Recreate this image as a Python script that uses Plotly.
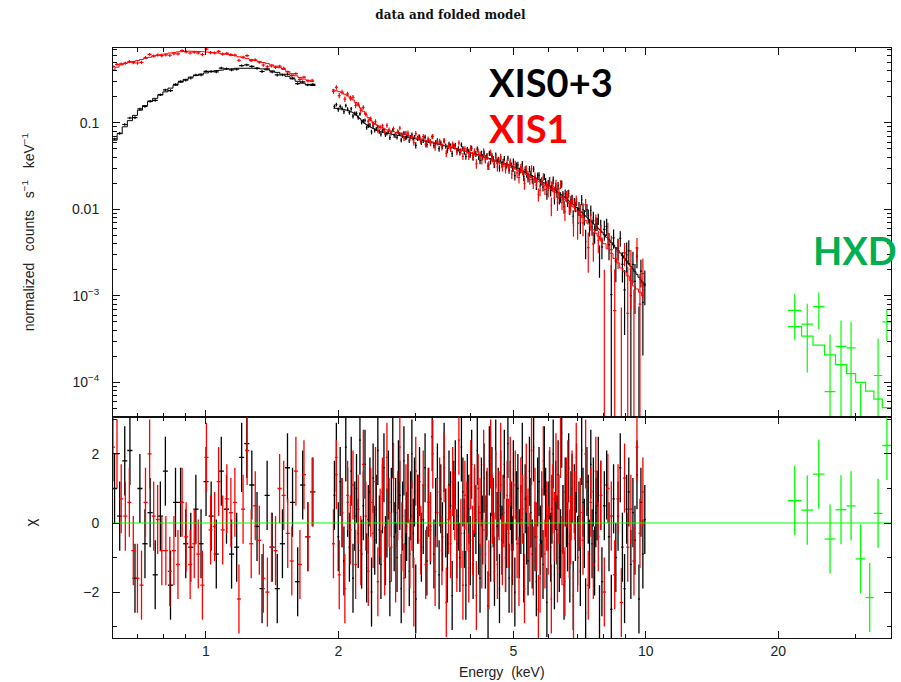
import numpy as np
import plotly.graph_objects as go
from plotly.subplots import make_subplots

# ---------------- data ----------------
# XIS0+3 (black), low-energy segment
XIS03_LO_E = [0.620, 0.637, 0.654, 0.672, 0.690, 0.708, 0.727, 0.747, 0.767, 0.788,
              0.809, 0.831, 0.853, 0.876, 0.900, 0.924, 0.949, 0.975, 1.001, 1.028,
              1.056, 1.084, 1.114, 1.144, 1.175, 1.206, 1.239, 1.272, 1.307, 1.342,
              1.378, 1.415, 1.453, 1.493, 1.533, 1.574, 1.617, 1.660, 1.705, 1.751]
XIS03_LO_MODEL = [0.063, 0.075, 0.090, 0.106, 0.122, 0.140, 0.158, 0.176, 0.192, 0.210,
                  0.228, 0.252, 0.272, 0.295, 0.318, 0.338, 0.352, 0.366, 0.378, 0.390,
                  0.400, 0.408, 0.416, 0.422, 0.427, 0.430, 0.432, 0.432, 0.428, 0.420,
                  0.410, 0.398, 0.383, 0.365, 0.345, 0.322, 0.302, 0.287, 0.278, 0.270]
XIS03_LO_CHI = [1.0, 0.2, 1.8, 2.1, -1.6, 1.0, -0.6, 0.3, -1.5, 0.2,
                1.5, -1.8, 0.6, 0.6, -0.6, -0.7, 0.4, -0.6, 1.2, 0.2,
                -0.9, 1.5, 0.4, -0.9, -0.7, 1.9, 2.3, 1.1, -0.1, -1.9,
                0.8, -0.7, -1.9, -0.6, 1.6, 0.6, -1.7, 1.1, -0.4, 0.9]

# XIS0+3 (black), high-energy segment
XIS03_HI_E = [1.96, 1.98, 2.00, 2.02, 2.04, 2.06, 2.08, 2.10, 2.12, 2.14,
              2.16, 2.18, 2.20, 2.22, 2.24, 2.26, 2.28, 2.30, 2.32, 2.34,
              2.36, 2.38, 2.40, 2.42, 2.44, 2.46, 2.48, 2.50, 2.52, 2.54,
              2.56, 2.58, 2.60, 2.62, 2.64, 2.66, 2.68, 2.70, 2.72, 2.74,
              2.76, 2.78, 2.80, 2.82, 2.84, 2.86, 2.88, 2.90, 2.92, 2.94,
              2.96, 2.98, 3.00, 3.03, 3.06, 3.09, 3.12, 3.15, 3.18, 3.21,
              3.24, 3.27, 3.30, 3.33, 3.36, 3.39, 3.42, 3.45, 3.48, 3.51,
              3.54, 3.57, 3.60, 3.63, 3.66, 3.69, 3.72, 3.75, 3.78, 3.81,
              3.84, 3.87, 3.90, 3.93, 3.96, 3.99, 4.02, 4.05, 4.08, 4.11,
              4.14, 4.17, 4.20, 4.23, 4.26, 4.29, 4.32, 4.35, 4.38, 4.41,
              4.44, 4.47, 4.50, 4.53, 4.56, 4.59, 4.62, 4.65, 4.68, 4.71,
              4.74, 4.77, 4.80, 4.83, 4.86, 4.89, 4.92, 4.95, 4.98, 5.00,
              5.04, 5.08, 5.12, 5.16, 5.20, 5.24, 5.28, 5.32, 5.36, 5.40,
              5.44, 5.48, 5.52, 5.56, 5.60, 5.64, 5.68, 5.72, 5.76, 5.80,
              5.84, 5.88, 5.92, 5.96, 6.00, 6.04, 6.08, 6.12, 6.16, 6.20,
              6.24, 6.28, 6.32, 6.36, 6.40, 6.44, 6.48, 6.52, 6.56, 6.60,
              6.64, 6.68, 6.72, 6.76, 6.80, 6.84, 6.88, 6.92, 6.96, 7.00,
              7.05, 7.10, 7.15, 7.20, 7.25, 7.30, 7.35, 7.40, 7.45, 7.50,
              7.55, 7.60, 7.65, 7.70, 7.75, 7.80, 7.85, 7.90, 7.95, 8.05,
              8.15, 8.25, 8.35, 8.45, 8.55, 8.65, 8.75, 8.85, 8.95, 9.05,
              9.15, 9.25, 9.35, 9.45, 9.55, 9.65, 9.75, 9.85, 9.95]
XIS03_HI_MODEL = [0.148, 0.147, 0.146, 0.145, 0.144, 0.143, 0.141, 0.139, 0.137, 0.134,
                  0.131, 0.127, 0.122, 0.117, 0.112, 0.107, 0.102, 0.098, 0.095, 0.092,
                  0.090, 0.088, 0.086, 0.084, 0.083, 0.081, 0.080, 0.079, 0.078, 0.077,
                  0.076, 0.0755, 0.075, 0.0745, 0.074, 0.0735, 0.073, 0.0725, 0.072, 0.0715,
                  0.071, 0.0705, 0.070, 0.0695, 0.069, 0.0685, 0.068, 0.0675, 0.067, 0.0665,
                  0.066, 0.0655, 0.0650, 0.0643, 0.0636, 0.0629, 0.0622, 0.0615, 0.0608, 0.0602,
                  0.0595, 0.0589, 0.0582, 0.0576, 0.0570, 0.0563, 0.0557, 0.0551, 0.0545, 0.0539,
                  0.0533, 0.0527, 0.0522, 0.0516, 0.0510, 0.0505, 0.0499, 0.0494, 0.0488, 0.0483,
                  0.0478, 0.0472, 0.0467, 0.0462, 0.0457, 0.0452, 0.0447, 0.0442, 0.0437, 0.0433,
                  0.0428, 0.0423, 0.0419, 0.0414, 0.0410, 0.0405, 0.0401, 0.0396, 0.0392, 0.0388,
                  0.0383, 0.0379, 0.0375, 0.0371, 0.0367, 0.0363, 0.0359, 0.0355, 0.0351, 0.0347,
                  0.0343, 0.0340, 0.0336, 0.0332, 0.0329, 0.0325, 0.0321, 0.0318, 0.0315, 0.0313,
                  0.0307, 0.0302, 0.0296, 0.0291, 0.0285, 0.0280, 0.0275, 0.0269, 0.0264, 0.0259,
                  0.0254, 0.0249, 0.0244, 0.0239, 0.0234, 0.0229, 0.0224, 0.0220, 0.0215, 0.0211,
                  0.0206, 0.0202, 0.0198, 0.0193, 0.0189, 0.0185, 0.0181, 0.0177, 0.0173, 0.0169,
                  0.0165, 0.0161, 0.0158, 0.0154, 0.0150, 0.0147, 0.0143, 0.0140, 0.0136, 0.0133,
                  0.0130, 0.0126, 0.0123, 0.0120, 0.0117, 0.0114, 0.0111, 0.0108, 0.0105, 0.0102,
                  0.00987, 0.00955, 0.00924, 0.00894, 0.00865, 0.00837, 0.00810, 0.00784, 0.00759, 0.00734,
                  0.00710, 0.00687, 0.00665, 0.00643, 0.00622, 0.00602, 0.00582, 0.00563, 0.00545, 0.00510,
                  0.00476, 0.00444, 0.00414, 0.00386, 0.00360, 0.00336, 0.00313, 0.00292, 0.00272, 0.00253,
                  0.00236, 0.00219, 0.00204, 0.00190, 0.00177, 0.00164, 0.00152, 0.00141, 0.00131]
XIS03_HI_CHI = [0.8, 1.9, -0.4, 1.2, 0.3, -1.1, 2.2, 0.6, -0.7, 1.5,
                -1.6, 0.2, 1.0, -0.3, 2.4, -0.9, 0.5, 1.7, -1.3, 0.1,
                0.9, -2.0, 1.3, -0.5, 0.4, 2.1, -0.2, -1.2, 0.7, 1.6,
                -0.8, 0.0, 1.1, -1.7, 0.6, 2.3, -0.4, 0.3, -1.0, 1.4,
                0.8, -1.9, 0.2, 1.8, -0.6, -0.1, 1.0, -1.4, 0.5, 2.0,
                -0.3, 0.9, -2.2, 0.4, 1.2, -0.7, 0.1, 1.6, -1.1, 0.6,
                -0.2, 2.5, -0.9, 0.3, 1.3, -1.5, 0.7, -0.4, 1.9, 0.0,
                -1.3, 1.1, 0.5, -2.1, 0.8, 1.4, -0.6, 0.2, -1.0, 2.2,
                0.9, -0.3, -1.8, 1.0, 0.4, -0.8, 1.7, -1.2, 0.6, 0.1,
                2.1, -0.5, -1.6, 0.9, -0.2, 1.3, -0.9, 0.5, -2.4, 1.8,
                -0.7, 1.2, 0.3, -1.4, 2.0, -0.1, 0.6, -1.9, 1.1, -0.5,
                0.4, 1.7, -1.0, -0.3, 2.3, -1.6, 0.8, 0.2, -0.8, 1.4,
                -2.0, 0.5, 1.0, -0.6, 0.1, 1.9, -1.3, 0.7, -0.2, -1.1,
                1.5, 0.3, -0.9, 2.2, -0.4, -1.7, 0.9, 1.2, -0.5, 0.0,
                -1.2, 1.8, 0.6, -2.3, 0.2, 1.1, -0.7, 0.4, 2.0, -1.5,
                0.8, -0.2, 1.4, -1.0, -0.6, 2.6, 0.1, -1.8, 0.9, 0.3,
                -0.4, 1.6, -1.3, 0.5, 1.0, -2.1, 0.7, -0.1, 1.3, -0.8,
                0.2, -1.4, 2.1, 0.6, -0.3, -2.6, 1.2, 0.4, -0.9, 1.7,
                -0.6, 0.9, -1.1, 0.3, 0.5, 1.5, -2.8, 0.8, -1.7, 0.5,
                1.1, -0.4, -2.5, 0.7, -1.0, 0.2, 1.6, -0.7, -1.9, 0.4,
                0.9, -1.2, 0.3, -0.5, 1.4, -2.2, 0.6, -0.9, 0.1]

# XIS1 (red), low-energy segment
XIS1_LO_E = [0.615, 0.628, 0.642, 0.656, 0.670, 0.684, 0.699, 0.714, 0.729, 0.745,
             0.761, 0.777, 0.794, 0.811, 0.828, 0.846, 0.864, 0.883, 0.902, 0.921,
             0.941, 0.961, 0.982, 1.003, 1.025, 1.047, 1.069, 1.092, 1.116, 1.140,
             1.164, 1.189, 1.215, 1.241, 1.268, 1.295, 1.323, 1.351, 1.380, 1.410,
             1.440, 1.471, 1.503, 1.535, 1.568, 1.602, 1.636, 1.671, 1.707, 1.744]
XIS1_LO_MODEL = [0.410, 0.440, 0.468, 0.485, 0.500, 0.512, 0.525, 0.540, 0.556, 0.572,
                 0.590, 0.605, 0.618, 0.630, 0.640, 0.650, 0.660, 0.668, 0.672, 0.674,
                 0.672, 0.668, 0.664, 0.660, 0.654, 0.646, 0.638, 0.628, 0.618, 0.606,
                 0.594, 0.580, 0.566, 0.552, 0.538, 0.525, 0.512, 0.498, 0.484, 0.468,
                 0.452, 0.434, 0.414, 0.392, 0.370, 0.350, 0.334, 0.320, 0.310, 0.300]
XIS1_LO_CHI = [2.2, 2.0, 0.7, 0.2, 0.6, -0.8, -1.6, -1.8, 0.6, 2.0,
               0.2, 0.1, -0.8, -0.8, -1.4, -0.8, -1.2, 0.6, -0.4, -1.2,
               -0.6, -0.9, -1.8, 1.9, -0.2, -0.1, 1.2, -0.2, 0.7, 0.3,
               0.6, -2.2, 0.4, 2.1, -0.6, 0.5, -0.5, -1.6, -2.0, -0.7,
               -0.8, 1.0, 0.8, -0.3, -1.1, 1.5, -1.2, 1.4, -0.4, 0.9]

# XIS1 (red), high-energy segment
XIS1_HI_E = [1.95, 1.98, 2.01, 2.04, 2.07, 2.10, 2.13, 2.16, 2.19, 2.22,
             2.25, 2.28, 2.31, 2.34, 2.37, 2.40, 2.43, 2.46, 2.49, 2.52,
             2.55, 2.58, 2.61, 2.64, 2.67, 2.70, 2.73, 2.76, 2.79, 2.82,
             2.85, 2.88, 2.91, 2.94, 2.97, 3.00, 3.04, 3.08, 3.12, 3.16,
             3.20, 3.24, 3.28, 3.32, 3.36, 3.40, 3.44, 3.48, 3.52, 3.56,
             3.60, 3.64, 3.68, 3.72, 3.76, 3.80, 3.84, 3.88, 3.92, 3.96,
             4.00, 4.04, 4.08, 4.12, 4.16, 4.20, 4.24, 4.28, 4.32, 4.36,
             4.40, 4.44, 4.48, 4.52, 4.56, 4.60, 4.64, 4.68, 4.72, 4.76,
             4.80, 4.84, 4.88, 4.92, 4.96, 5.00, 5.05, 5.10, 5.15, 5.20,
             5.25, 5.30, 5.35, 5.40, 5.45, 5.50, 5.55, 5.60, 5.65, 5.70,
             5.75, 5.80, 5.85, 5.90, 5.95, 6.00, 6.05, 6.10, 6.15, 6.20,
             6.25, 6.30, 6.35, 6.40, 6.45, 6.50, 6.55, 6.60, 6.65, 6.70,
             6.75, 6.80, 6.85, 6.90, 6.95, 7.00, 7.10, 7.20, 7.30, 7.40,
             7.50, 7.60, 7.70, 7.80, 7.90, 8.05, 8.20, 8.35, 8.50, 8.65,
             8.80, 8.95, 9.10, 9.25, 9.40, 9.55, 9.70, 9.85]
XIS1_HI_MODEL = [0.240, 0.235, 0.229, 0.222, 0.214, 0.205, 0.195, 0.184, 0.172, 0.160,
                 0.148, 0.136, 0.125, 0.115, 0.107, 0.100, 0.096, 0.092, 0.089, 0.087,
                 0.085, 0.083, 0.0815, 0.080, 0.079, 0.078, 0.077, 0.076, 0.075, 0.074,
                 0.073, 0.072, 0.0705, 0.069, 0.068, 0.0670, 0.0659, 0.0649, 0.0638, 0.0628,
                 0.0618, 0.0608, 0.0599, 0.0589, 0.0580, 0.0570, 0.0561, 0.0552, 0.0543, 0.0535,
                 0.0526, 0.0518, 0.0509, 0.0501, 0.0493, 0.0485, 0.0478, 0.0470, 0.0462, 0.0455,
                 0.0448, 0.0441, 0.0434, 0.0427, 0.0420, 0.0413, 0.0407, 0.0400, 0.0394, 0.0387,
                 0.0381, 0.0375, 0.0369, 0.0363, 0.0357, 0.0352, 0.0346, 0.0341, 0.0335, 0.0330,
                 0.0325, 0.0319, 0.0314, 0.0309, 0.0304, 0.0299, 0.0292, 0.0285, 0.0279, 0.0272,
                 0.0266, 0.0259, 0.0253, 0.0247, 0.0241, 0.0235, 0.0229, 0.0223, 0.0217, 0.0212,
                 0.0206, 0.0201, 0.0195, 0.0190, 0.0185, 0.0180, 0.0175, 0.0170, 0.0165, 0.0160,
                 0.0155, 0.0151, 0.0146, 0.0142, 0.0137, 0.0133, 0.0129, 0.0125, 0.0121, 0.0117,
                 0.0113, 0.0109, 0.0106, 0.0102, 0.00985, 0.0093, 0.0086, 0.0080, 0.0074, 0.0068,
                 0.0063, 0.0058, 0.0053, 0.0049, 0.0045, 0.0040, 0.0035, 0.0031, 0.0027, 0.0024,
                 0.0021, 0.0019, 0.0017, 0.0015, 0.0013, 0.0012, 0.0011, 0.0010]
XIS1_HI_CHI = [-0.6, 1.4, -1.5, 0.3, -1.9, 0.8, -0.2, 1.1, -1.2, 0.4,
               -0.8, 1.7, 0.2, -1.4, 0.6, -0.3, 1.2, -1.7, 0.0, 0.9,
               -1.1, 1.9, 0.3, -0.7, 1.3, -1.3, 0.5, 2.2, -0.4, -1.6,
               0.7, 1.0, -0.9, 0.2, -2.0, 1.5, 0.4, -0.5, 1.1, -1.2,
               0.6, -0.1, 2.0, -1.4, 0.3, 0.9, -0.8, 1.6, -2.3, 0.1,
               -0.6, 1.2, 0.5, -1.0, 2.4, -0.3, -1.8, 0.8, 0.2, -1.3,
               1.4, -0.5, 0.7, -2.1, 1.0, 0.3, -0.9, 1.7, -0.2, 0.6,
               -1.5, 2.0, 0.4, -0.7, 1.1, -1.2, 0.5, 1.9, -0.8, 0.3,
               -1.0, 0.8, -0.3, 1.5, -1.6, 0.2, 1.1, -0.6, -1.4, 0.9,
               0.4, -1.9, 1.3, 0.0, -0.7, 2.1, -1.1, 0.6, -0.4, -2.5,
               -1.6, 0.5, 1.8, -0.9, 0.2, -0.5, 1.2, -2.2, 0.7, -0.1,
               1.6, -1.3, 0.4, 2.3, -0.8, 0.1, -1.7, 0.9, 1.4, -0.6,
               -0.2, 1.1, -2.4, 0.5, 1.9, -1.0, 0.3, -0.5, 2.0, -1.8,
               0.6, -1.2, 1.5, -0.4, 0.8, -2.0, 1.0, 0.2, -1.5, 0.7,
               -2.3, 1.3, -0.7, 0.4, -1.1, 2.2, -0.3, 0.9]

# fractional 1-sigma errors of the XIS data, by energy band
ERR_BAND_EDGES = [0.0, 1.9, 3.0, 4.0, 5.0, 6.0, 7.0, 8.0, 9.0, 100.0]
XIS03_REL_ERR = [0.035, 0.055, 0.07, 0.08, 0.10, 0.13, 0.19, 0.30, 0.45]
XIS1_REL_ERR = [0.04, 0.065, 0.08, 0.10, 0.12, 0.16, 0.26, 0.50, 0.90]

# HXD (green)
HXD_EDGES = [21.05, 22.6, 24.0, 25.5, 27.0, 28.6, 30.0, 31.6, 33.0, 34.5, 36.2]
HXD_FLUX = [6.8e-4, 4.7e-4, 7.5e-4, 7.8e-5, 2.6e-4, 2.5e-4, -3.0e-5, -1.8e-4, 1.2e-4, 5.0e-4]
HXD_ERR = [3.7e-4, 3.4e-4, 3.4e-4, 2.8e-4, 2.6e-4, 2.5e-4, 1.25e-4, 1.2e-4, 2.0e-4, 2.0e-4]
HXD_MODEL = [4.4e-4, 3.43e-4, 2.69e-4, 2.08e-4, 1.6e-4, 1.26e-4, 1.0e-4, 7.9e-5, 6.4e-5, 5.1e-5]

# axis tick labels
X_TICKS = [1, 2, 5, 10, 20]
X_TICK_TEXT = ["1", "2", "5", "10", "20"]
Y_TICKS = [0.1, 0.01, 1e-3, 1e-4]
Y_TICK_TEXT = ["0.1", "0.01", "10<sup>\u22123</sup>", "10<sup>\u22124</sup>"]
CHI_TICKS = [-2, 0, 2]
CHI_TICK_TEXT = ["\u22122", "0", "2"]

X_RANGE = [0.615, 36.1]
Y_RANGE = [3.94e-5, 0.733]
CHI_RANGE = [-3.33, 3.06]

BLACK, RED, GREEN = "#000000", "#ff0000", "#00ff00"
LOG_FLOOR = 1e-12


# ---------------- helpers ----------------
def bin_edges(e):
    e = np.asarray(e, float)
    mid = np.sqrt(e[1:] * e[:-1])
    lo = np.concatenate([[e[0] ** 2 / mid[0]], mid])
    hi = np.concatenate([mid, [e[-1] ** 2 / mid[-1]]])
    return lo, hi


def rel_err(e, table):
    idx = np.searchsorted(ERR_BAND_EDGES, np.asarray(e, float), side="right") - 1
    return np.asarray(table)[idx]


def crosses(lo, hi, xc, y, ylo, yhi, log=False):
    xs, ys = [], []
    for a, b, c, v, l, h in zip(lo, hi, xc, y, ylo, yhi):
        if (not log) or v > 0:
            xs += [a, b, None]
            ys += [v, v, None]
        if log:
            if h <= 0:
                continue
            l = max(l, LOG_FLOOR)
        xs += [c, c, None]
        ys += [l, h, None]
    return xs, ys


def steps(lo, hi, m):
    xs, ys = [], []
    for a, b, v in zip(lo, hi, m):
        xs += [a, b]
        ys += [v, v]
    return xs, ys


def xis_dataset(E, M, CHI, table):
    n = min(len(E), len(M), len(CHI))
    E = np.asarray(E[:n], float)
    M = np.asarray(M[:n], float)
    C = np.asarray(CHI[:n], float)
    lo, hi = bin_edges(E)
    sig = M * rel_err(E, table)
    D = M + C * sig
    return E, lo, hi, M, D, sig, C


fig = make_subplots(rows=2, cols=1, shared_xaxes=True, vertical_spacing=0,
                    row_heights=[0.626, 0.374])

groups = [
    (XIS03_LO_E, XIS03_LO_MODEL, XIS03_LO_CHI, XIS03_REL_ERR, BLACK),
    (XIS03_HI_E, XIS03_HI_MODEL, XIS03_HI_CHI, XIS03_REL_ERR, BLACK),
    (XIS1_LO_E, XIS1_LO_MODEL, XIS1_LO_CHI, XIS1_REL_ERR, RED),
    (XIS1_HI_E, XIS1_HI_MODEL, XIS1_HI_CHI, XIS1_REL_ERR, RED),
]

for E, M, CHI, table, col in groups:
    E, lo, hi, M, D, sig, C = xis_dataset(E, M, CHI, table)
    xs, ys = crosses(lo, hi, E, D, D - sig, D + sig, log=True)
    fig.add_trace(go.Scatter(x=xs, y=ys, mode="lines", line=dict(color=col, width=1.2),
                             hoverinfo="skip", showlegend=False), row=1, col=1)
    mx, my = steps(lo, hi, M)
    fig.add_trace(go.Scatter(x=mx, y=my, mode="lines", line=dict(color=col, width=1),
                             hoverinfo="skip", showlegend=False), row=1, col=1)
    cx, cy = crosses(lo, hi, E, C, C - 1, C + 1)
    fig.add_trace(go.Scatter(x=cx, y=cy, mode="lines", line=dict(color=col, width=1.3),
                             hoverinfo="skip", showlegend=False), row=2, col=1)

# HXD
he = np.asarray(HXD_EDGES, float)
hlo, hhi = he[:-1], he[1:]
hc = np.sqrt(hlo * hhi)
hf = np.asarray(HXD_FLUX)
herr = np.asarray(HXD_ERR)
hm = np.asarray(HXD_MODEL)
hchi = (hf - hm) / herr
xs, ys = crosses(hlo, hhi, hc, hf, hf - herr, hf + herr, log=True)
fig.add_trace(go.Scatter(x=xs, y=ys, mode="lines", line=dict(color=GREEN, width=1.2),
                         hoverinfo="skip", showlegend=False), row=1, col=1)
mx, my = steps(hlo, hhi, hm)
fig.add_trace(go.Scatter(x=mx, y=my, mode="lines", line=dict(color=GREEN, width=1.2),
                         hoverinfo="skip", showlegend=False), row=1, col=1)
cx, cy = crosses(hlo, hhi, hc, hchi, hchi - 1, hchi + 1)
fig.add_trace(go.Scatter(x=cx, y=cy, mode="lines", line=dict(color=GREEN, width=1.3),
                         hoverinfo="skip", showlegend=False), row=2, col=1)

# zero line of the residual panel
fig.add_trace(go.Scatter(x=X_RANGE, y=[0, 0], mode="lines", line=dict(color=GREEN, width=1),
                         hoverinfo="skip", showlegend=False), row=2, col=1)

# ---------------- axes ----------------
tick_font = dict(family="Liberation Sans, Arial, sans-serif", size=14, color="#222222")
x_minor = [0.7, 0.8, 0.9, 3, 4, 6, 7, 8, 9, 30]
y_minor = [k * 10.0 ** d for d in range(-5, 0) for k in range(2, 10)
           if Y_RANGE[0] <= k * 10.0 ** d <= Y_RANGE[1]]

xcommon = dict(type="log", range=[np.log10(X_RANGE[0]), np.log10(X_RANGE[1])],
               tickvals=X_TICKS, ticktext=X_TICK_TEXT, ticks="inside", ticklen=7,
               tickcolor="#111111", showline=True, linecolor="#111111", linewidth=1,
               mirror="ticks", showgrid=False, zeroline=False, tickfont=tick_font,
               minor=dict(tickvals=x_minor, ticks="inside", ticklen=4, tickcolor="#111111",
                          showgrid=False))
fig.update_xaxes(**xcommon, showticklabels=False, row=1, col=1)
fig.update_xaxes(**xcommon, showticklabels=True, row=2, col=1)

fig.update_yaxes(type="log", range=[np.log10(Y_RANGE[0]), np.log10(Y_RANGE[1])],
                 tickvals=Y_TICKS, ticktext=Y_TICK_TEXT, ticks="inside", ticklen=7,
                 tickcolor="#111111", showline=True, linecolor="#111111", linewidth=1,
                 mirror="ticks", showgrid=False, zeroline=False, tickfont=tick_font,
                 ticklabelstandoff=10,
                 minor=dict(tickvals=y_minor, ticks="inside", ticklen=4, tickcolor="#111111",
                            showgrid=False),
                 row=1, col=1)
fig.update_yaxes(range=CHI_RANGE, tickvals=CHI_TICKS, ticktext=CHI_TICK_TEXT,
                 ticks="inside", ticklen=7, tickcolor="#111111", showline=True,
                 linecolor="#111111", linewidth=1, mirror="ticks", showgrid=False,
                 zeroline=False, tickfont=tick_font, ticklabelstandoff=10,
                 minor=dict(tickvals=[-3, -1, 1, 3], ticks="inside", ticklen=4,
                            tickcolor="#111111", showgrid=False),
                 row=2, col=1)

label_font = dict(family="Liberation Sans, Arial, sans-serif", size=14, color="#222222")
sp = "\u00a0\u00a0\u00a0"
ann = [
    dict(text="normalized" + sp + "counts" + sp + "s<sup>\u22121</sup>" + sp + "keV<sup>\u22121</sup>",
         x=-0.109, y=0.688, textangle=-90, font=label_font),
    dict(text="\u03c7", x=-0.106, y=0.195, textangle=-90, font=dict(label_font, size=15)),
    dict(text="Energy\u00a0\u00a0(keV)", x=0.5, y=-0.058, font=dict(label_font, size=14)),
]
for a in ann:
    fig.add_annotation(xref="paper", yref="paper", showarrow=False,
                       xanchor="center", yanchor="middle", **a)

big_font = "Lato, Open Sans, sans-serif"
fig.add_annotation(text="<b>XIS0+3</b>", xref="paper", yref="paper", x=0.4807, y=0.9424,
                   xanchor="left", yanchor="middle", showarrow=False,
                   font=dict(family=big_font, size=38, color="#000000"))
fig.add_annotation(text="<b>XIS1</b>", xref="paper", yref="paper", x=0.4807, y=0.8644,
                   xanchor="left", yanchor="middle", showarrow=False,
                   font=dict(family=big_font, size=38, color="#ff0000"))
fig.add_annotation(text="<b>HXD</b>", xref="paper", yref="paper", x=0.8972, y=0.6576,
                   xanchor="left", yanchor="middle", showarrow=False,
                   font=dict(family=big_font, size=38, color="#00b050"))

fig.update_layout(
    width=901, height=682,
    margin=dict(l=113, r=10, t=48, b=44),
    paper_bgcolor="white", plot_bgcolor="white",
    showlegend=False,
    title=dict(text="<b>data and folded model</b>", x=0.5, xref="container", xanchor="center",
               y=1 - 15 / 682, yref="container", yanchor="middle",
               font=dict(family="DejaVu Serif, serif", size=12, color="#111111")),
)

fig.write_html("out.html")
